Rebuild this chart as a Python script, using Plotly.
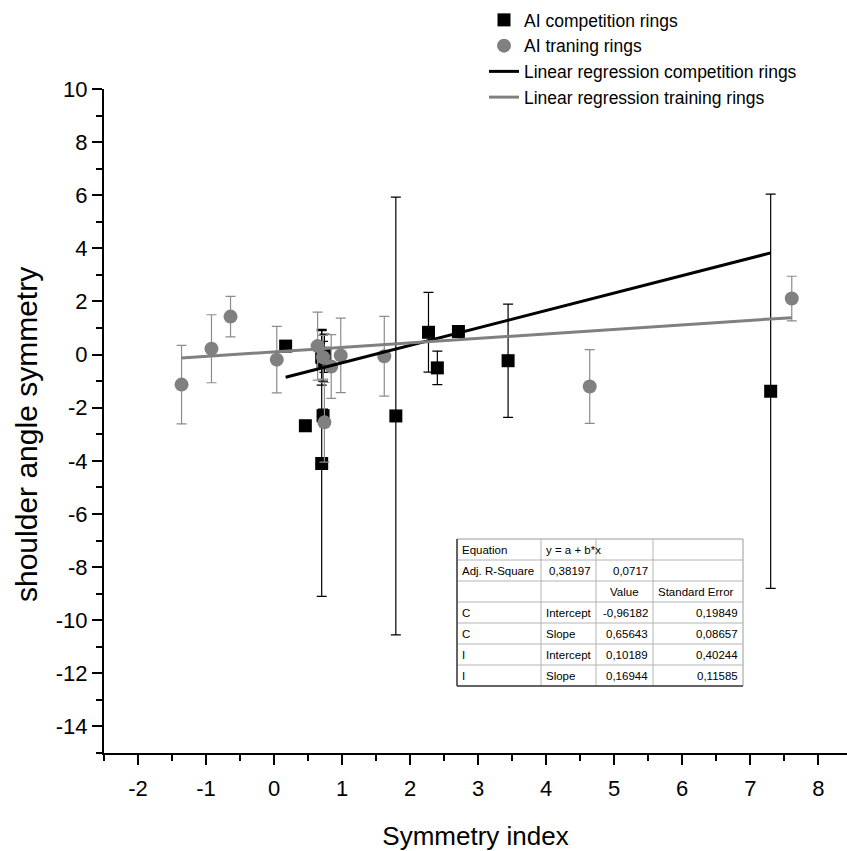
import plotly.graph_objects as go

# Competition rings: symmetry index, shoulder angle symmetry, error
comp_x = [0.17, 0.46, 0.72, 0.70, 0.70, 0.72, 0.74, 1.79, 2.27, 2.40, 2.71, 3.44, 7.30]
comp_y = [0.32, -2.68, -2.30, -4.10, -0.10, -0.25, 0.05, -2.31, 0.84, -0.50, 0.87, -0.23, -1.38]
comp_err = [0.20, 0.20, 0.25, 5.00, 1.05, 0.75, 0.72, 8.24, 1.50, 0.63, 0.20, 2.13, 7.42]

# Training rings
train_x = [-1.36, -0.92, -0.64, 0.04, 0.64, 0.72, 0.84, 0.98, 0.74, 1.62, 4.64, 7.61]
train_y = [-1.13, 0.22, 1.43, -0.19, 0.32, -0.10, -0.45, -0.03, -2.55, -0.06, -1.20, 2.11]
train_err = [1.48, 1.28, 0.76, 1.25, 1.28, 0.82, 1.20, 1.40, 1.50, 1.50, 1.39, 0.84]

# Linear fit results (C = competition, I = training)
fit_group = ["C", "C", "I", "I"]
fit_param = ["Intercept", "Slope", "Intercept", "Slope"]
fit_value = [-0.96182, 0.65643, 0.10189, 0.16944]
fit_stderr = [0.19849, 0.08657, 0.40244, 0.11585]
adj_r2 = [0.38197, 0.0717]

x_ticks = [-2, -1, 0, 1, 2, 3, 4, 5, 6, 7, 8]
y_ticks = [-14, -12, -10, -8, -6, -4, -2, 0, 2, 4, 6, 8, 10]

FONT = "Liberation Sans, Arial, sans-serif"
GRAY = "#808080"


def num(v):
    return str(v).replace(".", ",")


def fit_line(xs, a, b):
    x0, x1 = min(xs), max(xs)
    return [x0, x1], [a + b * x0, a + b * x1]


fig = go.Figure()

fig.add_trace(go.Scatter(
    x=comp_x, y=comp_y, mode="markers", name="AI competition rings",
    marker=dict(symbol="square", size=13, color="black"),
    error_y=dict(type="data", array=comp_err, color="black", thickness=1.2, width=5),
))
fig.add_trace(go.Scatter(
    x=train_x, y=train_y, mode="markers", name="AI traning rings",
    marker=dict(symbol="circle", size=14, color=GRAY),
    error_y=dict(type="data", array=train_err, color="#8c8c8c", thickness=1.2, width=5),
))

lx, ly = fit_line(comp_x, fit_value[0], fit_value[1])
fig.add_trace(go.Scatter(x=lx, y=ly, mode="lines", name="Linear regression competition rings",
                         line=dict(color="black", width=3)))
lx, ly = fit_line(train_x, fit_value[2], fit_value[3])
fig.add_trace(go.Scatter(x=lx, y=ly, mode="lines", name="Linear regression training rings",
                         line=dict(color=GRAY, width=3)))

W, H = 847, 851
ML, MR, MT, MB = 104, 0, 89, 98
PW, PH = W - ML - MR, H - MT - MB


def px(x):
    return (x - ML) / PW


def py(y):
    return (H - MB - y) / PH


# Fit summary table, laid out as rows of cells
table_rows = [
    ["Equation", "y = a + b*x", "", ""],
    ["Adj. R-Square", num(adj_r2[0]), num(adj_r2[1]), ""],
    ["", "", "Value", "Standard Error"],
] + [[g, p, num(v), num(s)] for g, p, v, s in zip(fit_group, fit_param, fit_value, fit_stderr)]
table_align = [
    ["left", "left", "left", "left"],
    ["left", "right", "right", "left"],
    ["left", "left", "center", "left"],
] + [["left", "left", "right", "right"]] * 4
col_w = [84, 55, 57, 90]
row_h = 21
tx0, ty0 = 457, 539
col_edges = [tx0]
for w in col_w:
    col_edges.append(col_edges[-1] + w)
tx1 = col_edges[-1]
ty1 = ty0 + row_h * len(table_rows)

fig.add_shape(type="rect", xref="paper", yref="paper",
              x0=px(tx0), x1=px(tx1), y0=py(ty1), y1=py(ty0),
              fillcolor="white", line=dict(color="#9a9a9a", width=1), layer="above")
for i in range(1, len(table_rows)):
    yy = ty0 + i * row_h
    fig.add_shape(type="line", xref="paper", yref="paper",
                  x0=px(tx0), x1=px(tx1), y0=py(yy), y1=py(yy),
                  line=dict(color="#b4b4b4", width=1), layer="above")
for xe in col_edges[1:-1]:
    fig.add_shape(type="line", xref="paper", yref="paper",
                  x0=px(xe), x1=px(xe), y0=py(ty0), y1=py(ty1),
                  line=dict(color="#b4b4b4", width=1), layer="above")
# darker left and bottom edges of the frame
for x0, y0, x1, y1 in [(tx0, ty0, tx0, ty1), (tx0, ty1, tx1, ty1)]:
    fig.add_shape(type="line", xref="paper", yref="paper",
                  x0=px(x0), y0=py(y0), x1=px(x1), y1=py(y1),
                  line=dict(color="#404040", width=1.5), layer="above")

pad = 3
for r, (row, arow) in enumerate(zip(table_rows, table_align)):
    yc = ty0 + r * row_h + row_h / 2
    for c, (txt, al) in enumerate(zip(row, arow)):
        if not txt:
            continue
        if al == "left":
            xx = col_edges[c] + pad
        elif al == "right":
            xx = col_edges[c + 1] - pad
        else:
            xx = (col_edges[c] + col_edges[c + 1]) / 2
        fig.add_annotation(xref="paper", yref="paper", x=px(xx), y=py(yc),
                           text=txt, showarrow=False, xanchor=al, yanchor="middle",
                           font=dict(family=FONT, size=11.5, color="black"))

# Vertical axis title
fig.add_annotation(xref="paper", yref="paper", x=px(26), y=py(435),
                   text="shoulder angle symmetry", textangle=-90, showarrow=False,
                   xanchor="center", yanchor="middle",
                   font=dict(family=FONT, size=30, color="black"))

fig.update_layout(
    width=W, height=H,
    margin=dict(l=ML, r=MR, t=MT, b=MB),
    paper_bgcolor="white", plot_bgcolor="white",
    font=dict(family=FONT, color="black"),
    showlegend=True,
    legend=dict(x=px(484), y=py(2), xanchor="left", yanchor="top",
                font=dict(family=FONT, size=17.5, color="black"),
                bgcolor="rgba(0,0,0,0)", borderwidth=0),
)

axis_common = dict(
    showgrid=False, zeroline=False, showline=True, linecolor="black", linewidth=2,
    ticks="outside", ticklen=10, tickwidth=2, tickcolor="black",
    tickfont=dict(family=FONT, size=22, color="black"),
)
fig.update_xaxes(
    **axis_common, range=[-2.5, 8.422], tickvals=x_ticks,
    ticktext=[str(v) for v in x_ticks], ticklabelstandoff=5,
    minor=dict(dtick=0.5, tick0=0, ticks="outside", ticklen=6, tickwidth=2, tickcolor="black"),
    title=dict(text="Symmetry index", font=dict(family=FONT, size=26, color="black"), standoff=26),
    automargin=False,
)
fig.update_yaxes(
    **axis_common, range=[-15, 10], tickvals=y_ticks,
    ticktext=[str(v) for v in y_ticks],
    minor=dict(dtick=1, tick0=0, ticks="outside", ticklen=6, tickwidth=2, tickcolor="black"),
    automargin=False,
)

fig.write_html("out.html")
